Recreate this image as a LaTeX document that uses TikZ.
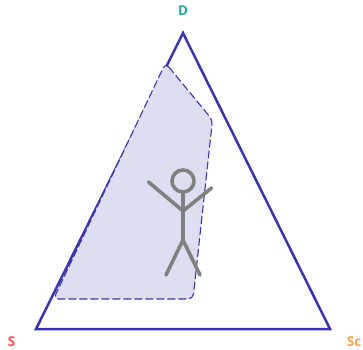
\documentclass[tikz,border=0pt]{standalone}
\usepackage{fontspec}
\setmainfont{Open Sans}
\definecolor{TriangleColor}{RGB}{60,52,172}
\definecolor{ZoneColor}{RGB}{222,222,242}
\definecolor{FigureColor}{RGB}{128,128,128}
\definecolor{LabelD}{RGB}{30,166,166}
\definecolor{LabelS}{RGB}{226,88,88}
\definecolor{LabelSc}{RGB}{255,160,80}
\tikzset{
  corner/.style={font=\fontsize{13.5}{16}\selectfont\bfseries, inner sep=0pt},
  limb/.style={FigureColor, line width=3.6pt, line cap=round}
}
\begin{document}
\begin{tikzpicture}[x=1pt, y=-1pt]
  \useasboundingbox (0,0) rectangle (363,349);
  \draw[TriangleColor, line width=2.5pt, line join=miter] (183,33) -- (36,329) -- (330,329) -- cycle;
  \draw[TriangleColor, fill=ZoneColor, line width=1.1pt, dash pattern=on 8pt off 3pt, rounded corners=5pt] (165.5,63) -- (212.5,120) -- (193,299) -- (53.5,299) -- cycle;
  \draw[limb] (183,181) circle (11);
  \draw[limb] (183,192) -- (183,240);
  \draw[limb] (148.5,182) -- (183,211) -- (211.5,188);
  \draw[limb] (166,275) -- (183,240) -- (200,275);
  \node[corner, LabelD] (vertexD) at (183,11) {D};
  \node[corner, LabelS] (vertexS) at (11.5,341.5) {S};
  \node[corner, LabelSc] (vertexSc) at (354,341.5) {Sc};
\end{tikzpicture}
\end{document}
